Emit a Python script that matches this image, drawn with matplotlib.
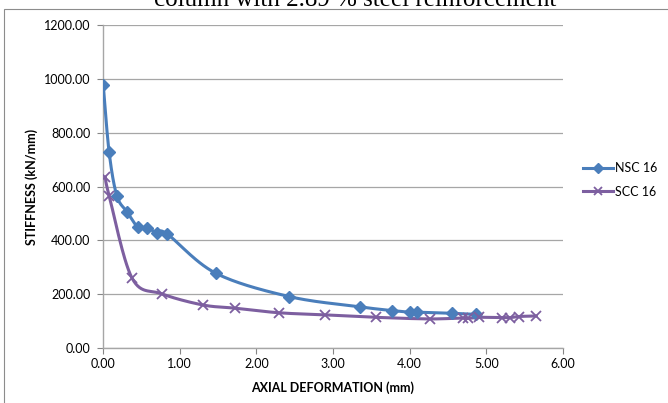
import numpy as np
import matplotlib
matplotlib.use('Agg')
import matplotlib.pyplot as plt
from matplotlib.patches import Rectangle

# values
nsc_x = [0.004, 0.08, 0.18, 0.31, 0.45, 0.58, 0.71, 0.84, 1.47, 2.43, 3.35, 3.77, 4.01, 4.10, 4.55, 4.86]
nsc_y = [976, 727, 566, 507, 451, 444, 429, 423, 278, 191, 153, 139, 133, 133, 129, 125]
scc_x = [0.03, 0.08, 0.38, 0.77, 1.30, 1.72, 2.29, 2.90, 3.56, 4.27, 4.70, 4.76, 4.90, 5.20, 5.31, 5.42, 5.65]
scc_y = [635, 566, 259, 201, 160, 148, 131, 123, 114, 108, 112, 110, 114, 113, 113, 117, 119]
series_names = ['NSC 16', 'SCC 16']
x_ticks = [0, 1, 2, 3, 4, 5, 6]
y_ticks = [0, 200, 400, 600, 800, 1000, 1200]

title = 'column with 2.89 % steel reinforcement'
x_label = 'AXIAL DEFORMATION (mm)'
y_label = 'STIFFNESS (kN/mm)'


def smooth(x, y, n=30):
    # Excel-style smoothed line: bezier segments with catmull-rom control points
    p = np.column_stack([x, y]).astype(float)
    p = np.vstack([p[0], p, p[-1]])
    t = np.linspace(0, 1, n)[:, None]
    out = []
    for i in range(1, len(p) - 2):
        p0, p1, p2, p3 = p[i - 1], p[i], p[i + 1], p[i + 2]
        c1 = p1 + (p2 - p0) / 6
        c2 = p2 - (p3 - p1) / 6
        seg = ((1 - t) ** 3) * p1 + 3 * ((1 - t) ** 2) * t * c1 + 3 * (1 - t) * t ** 2 * c2 + t ** 3 * p2
        out.append(seg)
    out = np.vstack(out)
    return out[:, 0], out[:, 1]


plt.rcParams['font.family'] = ['Lato', 'DejaVu Sans']

fig = plt.figure(figsize=(6.68, 4.03), dpi=100)
ax = fig.add_axes([103 / 668, 1 - 348 / 403, 460 / 668, 323 / 403])

blue = '#4a7ebb'
purple = '#7d5fa0'

sx, sy = smooth(nsc_x, nsc_y)
ax.plot(sx, sy, color=blue, lw=2.2, zorder=3)
ax.plot(nsc_x, nsc_y, ls='none', marker='D', ms=6.5, color=blue, zorder=4)
sx, sy = smooth(scc_x, scc_y)
ax.plot(sx, sy, color=purple, lw=2.2, zorder=3)
ax.plot(scc_x, scc_y, ls='none', marker='x', ms=7, mew=1.3, color=purple, zorder=4)

# legend entries built by hand to mimic the excel look
ax.plot([], [], color=blue, lw=2.2, marker='D', ms=5.5, label=series_names[0])
ax.plot([], [], color=purple, lw=2.2, marker='x', ms=6, mew=1.3, label=series_names[1])
leg = ax.legend(loc='center left', bbox_to_anchor=(1.02, 0.52), frameon=False,
                fontsize=9, handlelength=2.4, handletextpad=0.15, labelspacing=0.9)

ax.set_xlim(0, 6)
ax.set_ylim(0, 1200)
ax.set_xticks(x_ticks)
ax.set_yticks(y_ticks)
ax.set_xticklabels(['%.2f' % v for v in x_ticks])
ax.set_yticklabels(['%.2f' % v for v in y_ticks])
ax.tick_params(labelsize=9, colors='#868686', labelcolor='black', length=4, width=0.8)
ax.tick_params(axis='y', pad=5)
ax.grid(axis='y', color='#a6a6a6', lw=0.9)
ax.set_axisbelow(True)
for s in ['top', 'right']:
    ax.spines[s].set_visible(False)
for s in ['left', 'bottom']:
    ax.spines[s].set_color('#a6a6a6')
    ax.spines[s].set_linewidth(1.0)

ax.set_xlabel(x_label, fontsize=9, fontweight='bold', labelpad=8)
ax.set_ylabel(y_label, fontsize=9, fontweight='bold', labelpad=4)

# chart area frame and clipped title
fig.add_artist(Rectangle((4 / 668, -0.2), 1.2, 1.2 - 9 / 403, transform=fig.transFigure,
                         fill=False, edgecolor='#8c8c8c', lw=0.8))
fig.text(355 / 668, 1 - 6 / 403, title, ha='center', va='baseline', fontsize=18,
         family='Liberation Serif')

fig.savefig('out.png', dpi=100)
